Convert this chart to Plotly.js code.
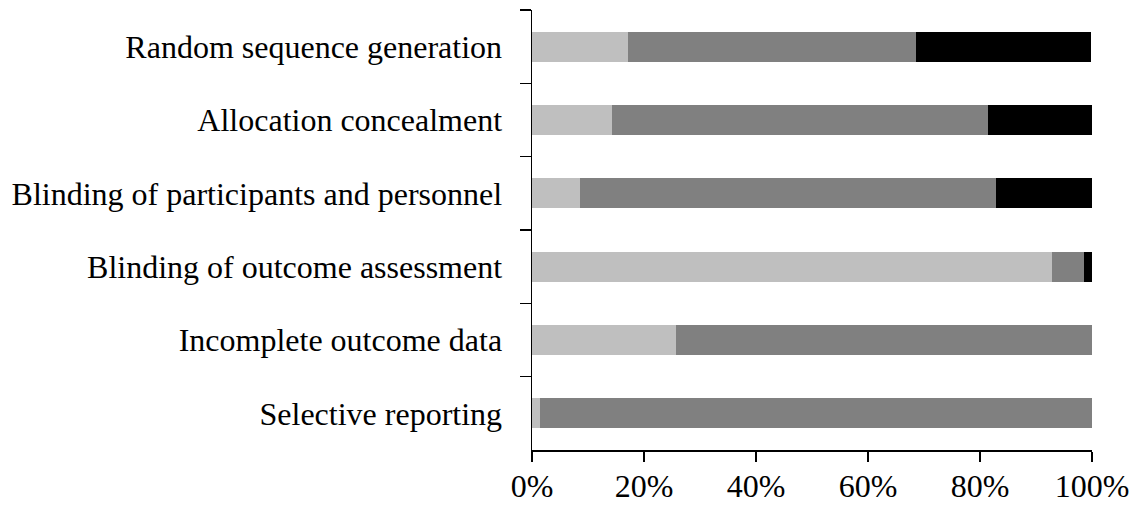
<!DOCTYPE html>
<html>
<head>
<meta charset="utf-8">
<script src="https://cdn.plot.ly/plotly-3.0.1.min.js"></script>
<style>html,body{margin:0;padding:0;background:#fff;}#chart{width:1140px;height:505px;}</style>
</head>
<body>
<div id="chart"></div>
<script>
const categories = [
  "Random sequence generation",
  "Allocation concealment",
  "Blinding of participants and personnel",
  "Blinding of outcome assessment",
  "Incomplete outcome data",
  "Selective reporting"
];
const lowRisk = [17.1, 14.3, 8.6, 92.9, 25.7, 1.4];
const unclearRisk = [51.4, 67.1, 74.3, 5.7, 74.3, 98.6];
const highRisk = [31.4, 18.6, 17.1, 1.4, 0, 0];
const tickValues = [0, 20, 40, 60, 80, 100];
const tickLabels = ["0%", "20%", "40%", "60%", "80%", "100%"];

const mk = (vals, color, name) => ({
  type: 'bar', orientation: 'h', x: vals, y: categories, name: name,
  marker: {color: color, line: {width: 0}}, hoverinfo: 'x+y'
});

const data = [
  mk(lowRisk, '#BFBFBF', 'Low risk'),
  mk(unclearRisk, '#808080', 'Unclear risk'),
  mk(highRisk, '#000000', 'High risk')
];

const layout = {
  width: 1140, height: 505,
  margin: {l: 532, r: 48, t: 10, b: 55, pad: 0},
  paper_bgcolor: '#fff', plot_bgcolor: '#fff',
  barmode: 'stack', bargap: 0.59, showlegend: false,
  font: {family: '"Liberation Serif", "Times New Roman", serif', size: 32, color: '#000'},
  xaxis: {
    range: [0, 100], tickvals: tickValues, ticktext: tickLabels,
    showgrid: false, zeroline: false, showline: true, linecolor: '#000', linewidth: 1.5,
    ticks: 'outside', ticklen: 10, tickwidth: 1.5, tickcolor: '#000',
    ticklabelstandoff: -3, fixedrange: true
  },
  yaxis: {
    type: 'category', categoryorder: 'array', categoryarray: categories, autorange: 'reversed',
    showgrid: false, zeroline: false, showline: true, linecolor: '#000', linewidth: 1.5,
    ticks: 'outside', tickson: 'boundaries', ticklen: 11, tickwidth: 1.5, tickcolor: '#000',
    ticklabelstandoff: 22, fixedrange: true
  }
};

Plotly.newPlot('chart', data, layout, {displayModeBar: false, staticPlot: true});
</script>
</body>
</html>
